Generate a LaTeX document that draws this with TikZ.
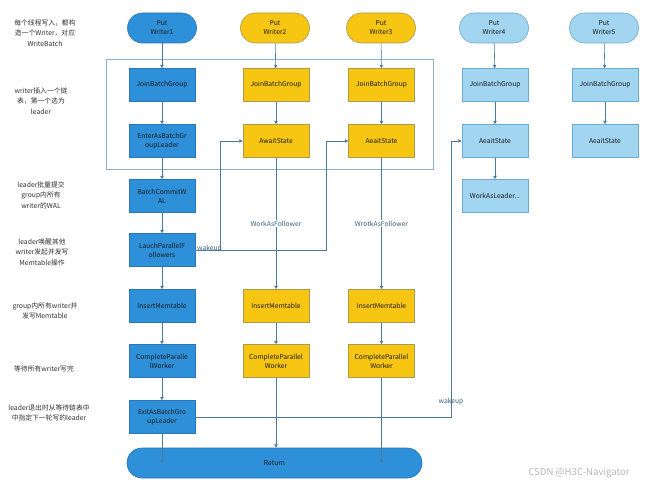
\documentclass[tikz,border=0pt]{standalone}
\usepackage{fontspec}
\setmainfont{Noto Sans CJK SC}
\usetikzlibrary{arrows.meta}
\definecolor{bfill}{HTML}{2F90DA}
\definecolor{bdraw}{HTML}{2A76B6}
\definecolor{yfill}{HTML}{F7C613}
\definecolor{ydraw}{HTML}{A99B4C}
\definecolor{lfill}{HTML}{A2D5F0}
\definecolor{ldraw}{HTML}{6DAAD0}
\definecolor{lc}{HTML}{4B7B9A}
\definecolor{gc}{HTML}{8FB2C4}
\definecolor{ltxt}{HTML}{333333}
\definecolor{wm}{HTML}{B8B8B8}
\begin{document}
\begin{tikzpicture}[x=1pt,y=-1pt,
  box/.style={draw, minimum width=66pt, minimum height=33pt, inner sep=1pt, align=center,
    font=\fontsize{6.7}{9}\selectfont, line width=0.6pt, text=black!90},
  bbox/.style={box, fill=bfill, draw=bdraw},
  ybox/.style={box, fill=yfill, draw=ydraw},
  lbox/.style={box, fill=lfill, draw=ldraw},
  pill/.style={minimum width=69pt, minimum height=30pt, rounded corners=15pt},
  arr/.style={draw=lc, line width=0.6pt, -{Triangle[width=3.4pt,length=3.4pt]}},
  ln/.style={draw=lc, line width=0.6pt},
  lab/.style={font=\fontsize{6.8}{10.5}\selectfont, text=ltxt, align=center, inner sep=0pt},
  elab/.style={font=\fontsize{6.7}{8}\selectfont, text=lc!80!black, inner sep=1pt}
]
\useasboundingbox[fill=white] (0,0) rectangle (650,487);

% group box
\node (grp) [draw=gc, line width=0.6pt, minimum width=327pt, minimum height=110pt, inner sep=0pt] at (269.5,114) {};

% Writer1 column (blue)
\node (p1) [bbox, pill] at (162,28) {Put\\Writer1};
\node (j1) [bbox] at (162,85) {JoinBatchGroup};
\node (e1) [bbox] at (162,141) {EnterAsBatchGr\\oupLeader};
\node (c1) [bbox] at (162,196) {BatchCommitW\\AL};
\node (l1) [bbox] at (162,250) {LauchParallelF\\ollowers};
\node (i1) [bbox] at (162,306) {InsertMemtable};
\node (cp1) [bbox] at (162,361) {CompleteParalle\\lWorker};
\node (x1) [bbox] at (162,417) {ExitAsBatchGro\\upLeader};
\node (ret) [bbox, minimum width=295pt, minimum height=30pt, rounded corners=15pt] at (274.5,463) {Return};

% Writer2 column (yellow)
\node (p2) [ybox, pill] at (275,28) {Put\\Writer2};
\node (j2) [ybox] at (276,85) {JoinBatchGroup};
\node (a2) [ybox] at (276,141) {AwaitState};
\node (i2) [ybox] at (276,306) {InsertMemtable};
\node (cp2) [ybox] at (276,361) {CompleteParallel\\Worker};

% Writer3 column (yellow)
\node (p3) [ybox, pill] at (381,28) {Put\\Writer3};
\node (j3) [ybox] at (381.5,85) {JoinBatchGroup};
\node (a3) [ybox] at (381.5,141) {AeaitState};
\node (i3) [ybox] at (381.5,306) {InsertMemtable};
\node (cp3) [ybox] at (381.5,361) {CompleteParallel\\Worker};

% Writer4 column (light blue)
\node (p4) [lbox, pill] at (494,28) {Put\\Writer4};
\node (j4) [lbox] at (495,85) {JoinBatchGroup};
\node (a4) [lbox] at (495,141) {AeaitState};
\node (w4) [lbox] at (495,196) {WorkAsLeader...};

% Writer5 column (light blue)
\node (p5) [lbox, pill] at (604,28) {Put\\Writer5};
\node (j5) [lbox] at (605,85) {JoinBatchGroup};
\node (a5) [lbox] at (605,141) {AeaitState};

% left annotations
\node (t1) [lab] at (45,33) {每个线程写入，都构\\造一个Writer，对应\\WriteBatch};
\node (t2) [lab] at (41,101) {writer插入一个链\\表，第一个选为\\leader};
\node (t3) [lab] at (41,195) {leader批量提交\\group内所有\\writer的WAL};
\node (t4) [lab] at (42,252) {leader唤醒其他\\writer发起并发写\\Memtable操作};
\node (t5) [lab] at (45,311) {group内所有writer并\\发写Memtable};
\node (t6) [lab] at (44,369) {等待所有writer写完};
\node (t7) [lab] at (49,413) {leader退出时从等待链表中\\中指定下一轮写的leader};

% watermark
\node (wmk) [font=\fontsize{9.6}{11}\selectfont, text=wm, inner sep=0pt] at (579,473) {CSDN @H3C-Navigator};

% coordinates for wakeup routing
\coordinate (wa) at (220,250);
\coordinate (wb) at (326,250);
\coordinate (wc) at (451,417);

% Writer1 chain
\draw[arr] (p1) -- (j1);
\draw[arr] (j1) -- (e1);
\draw[arr] (e1) -- (c1);
\draw[arr] (c1) -- (l1);
\draw[arr] (l1) -- (i1);
\draw[arr] (i1) -- (cp1);
\draw[arr] (cp1) -- (x1);
\draw[arr] (x1) -- (x1 |- ret.center);

% Writer2 chain
\draw[arr] (p2) -- (j2);
\draw[arr] (j2) -- (a2);
\draw[arr] (a2) -- node[elab, fill=white, pos=0.5] {WorkAsFollower} (i2);
\draw[arr] (i2) -- (cp2);
\draw[arr] (cp2) -- (cp2 |- ret.north);

% Writer3 chain
\draw[arr] (p3) -- (j3);
\draw[arr] (j3) -- (a3);
\draw[arr] (a3) -- node[elab, fill=white, pos=0.5] {WrotkAsFollower} (i3);
\draw[arr] (i3) -- (cp3);
\draw[arr] (cp3) -- (cp3 |- ret.center);

% Writer4 chain
\draw[arr] (p4) -- (j4);
\draw[arr] (j4) -- (a4);
\draw[arr] (a4) -- (w4);

% Writer5 chain
\draw[arr] (p5) -- (j5);
\draw[arr] (j5) -- (a5);

% wakeup from LauchParallelFollowers
\draw[arr] (l1.east) -- (wb |- l1.east) |- (a3.west);
\draw[arr] (wa |- l1.east) |- (a2.west);
\node (wk1) [elab, anchor=west] at (196,248.5) {wakeup};

% wakeup from ExitAsBatchGroupLeader
\draw[arr] (x1.east) -- (wc |- x1.east) |- (a4.west);
\node (wk2) [elab] at (451,401.5) {wakeup};
\end{tikzpicture}
\end{document}
